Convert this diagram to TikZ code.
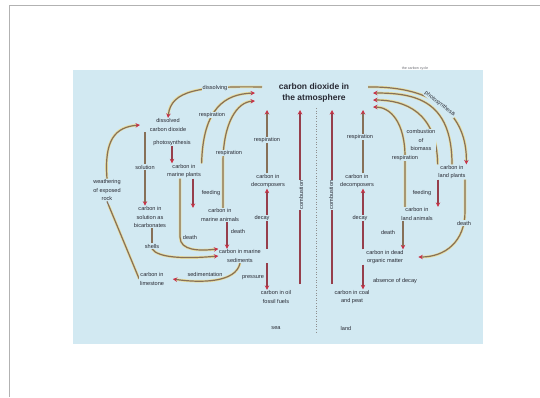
\documentclass[tikz,border=0pt]{standalone}
\usepackage{fontspec}
\setmainfont{Liberation Sans}
\usetikzlibrary{arrows.meta}
\pgfdeclarelayer{bglayer}
\pgfdeclarelayer{lineslayer}
\pgfsetlayers{bglayer,lineslayer,main}
\definecolor{bgc}{RGB}{210,233,242}
\definecolor{linec}{RGB}{135,112,88}
\definecolor{halo}{RGB}{232,222,160}
\definecolor{redc}{RGB}{150,62,75}
\definecolor{tipc}{RGB}{200,50,70}
\definecolor{txtc}{RGB}{40,42,52}
\definecolor{framec}{RGB}{178,178,178}
\begin{document}
\begin{tikzpicture}[x=1pt,y=-1pt,
  lbl/.style={font=\fontsize{5.6}{8.5}\selectfont, text=txtc, align=center, inner sep=0.6pt, fill=bgc},
  flow/.style={draw=linec, line width=1.2pt, preaction={draw=halo, line width=2.6pt, arrows=-, shorten >=4pt}},
  rflow/.style={draw=redc, line width=1.2pt, preaction={draw=halo, line width=2.6pt, arrows=-, shorten >=4pt}},
  redtip/.style={-{Stealth[length=4.5pt,width=4.5pt,color=tipc]}}
]
\useasboundingbox (0,0) rectangle (540,397);
\begin{pgfonlayer}{bglayer}
\fill[bgc] (73,70) rectangle (483,344);
\draw[framec,line width=1pt] (9.5,397) -- (9.5,5.5) -- (540,5.5);
\end{pgfonlayer}

% title and small header
\node[font=\fontsize{8.5}{11}\selectfont\bfseries, text=txtc, align=center, fill=bgc, inner sep=1pt] (title) at (314,93) {carbon dioxide in\\the atmosphere};
\node[font=\fontsize{3.6}{4}\selectfont, text=txtc!70] (cyc) at (415,69) {the carbon cycle};

% sea side
\node[lbl] (dco2) at (168,125) {dissolved\\carbon dioxide};
\node[lbl] (photo) at (172,143) {photosynthesis};
\node[lbl] (soln) at (145,167) {solution};
\node[lbl] (mplant) at (184,171) {carbon in\\marine plants};
\node[lbl] (feedS) at (211,193) {feeding};
\node[lbl] (manim) at (220,215) {carbon in\\marine animals};
\node[lbl] (deathS1) at (190,237) {death};
\node[lbl] (deathS2) at (238,231) {death};
\node[lbl] (bicarb) at (150,217) {carbon in\\solution as\\bicarbonates};
\node[lbl] (shells) at (152,246) {shells};
\node[lbl] (weather) at (107,190) {weathering\\of exposed\\rock};
\node[lbl] (lime) at (152,279) {carbon in\\limestone};
\node[lbl] (sedim) at (205,274) {sedimentation};
\node[lbl] (msed) at (240,256) {carbon in marine\\sediments};
\node[lbl] (pressS) at (253,278) {pressure};
\node[lbl] (oil) at (276,297) {carbon in oil\\fossil fuels};
\node[lbl] (decS) at (268,181) {carbon in\\decomposers};
\node[lbl] (decayS) at (262,218) {decay};
\node[lbl] (respS) at (267,140) {respiration};
\node[lbl] (respA) at (212,115) {respiration};
\node[lbl] (respB) at (229,153) {respiration};
\node[lbl] (dissolv) at (215,88) {dissolving};
\node[lbl, rotate=90] (combS) at (301,195) {combustion};
\node[lbl, rotate=90] (combL) at (331,195) {combustion};
\node[lbl] (sea) at (276,328) {sea};
\node[lbl] (land) at (346,328) {land};

% land side
\node[lbl] (coal) at (352,297) {carbon in coal\\and peat};
\node[lbl] (absdec) at (395,281) {absence of decay};
\node[lbl] (dead) at (385,257) {carbon in dead\\organic matter};
\node[lbl] (decL) at (357,181) {carbon in\\decomposers};
\node[lbl] (decayL) at (360,218) {decay};
\node[lbl] (respL) at (360,137) {respiration};
\node[lbl] (lanim) at (417,214) {carbon in\\land animals};
\node[lbl] (deathL1) at (388,232) {death};
\node[lbl] (lplant) at (452,172) {carbon in\\land plants};
\node[lbl] (feedL) at (422,193) {feeding};
\node[lbl] (deathL2) at (464,223) {death};
\node[lbl] (respR) at (405,158) {respiration};
\node[lbl] (combR) at (421,140) {combustion\\of\\biomass};
\node[lbl, rotate=-38] (photoR) at (440,104) {photosynthesis};

% free ends
\coordinate (tL0) at (262,87);
\coordinate (tL2) at (255,93);
\coordinate (tL3) at (255,101);
\coordinate (tR0) at (368,87);
\coordinate (tR1) at (373,93);
\coordinate (tR2) at (373,100);
\coordinate (tR3) at (373,107);
\coordinate (tbot) at (316,110);
\coordinate (cS0) at (300,284);
\coordinate (cL0) at (332,284);
\coordinate (mid0) at (316,108);
\coordinate (mid1) at (316,332);

\begin{pgfonlayer}{lineslayer}
\draw[framec!80!black, dotted, line width=0.6pt] (mid0) -- (mid1);
% sea
\draw[flow,redtip] (tL0) .. controls (200,86) and (171,90) .. (dco2.north);
\draw[flow,redtip] (weather.north) .. controls (104,140) and (115,127) .. ([xshift=-9pt]dco2.west);
\draw[flow] (lime.west) -- (weather.south);
\draw[rflow,redtip] (photo.south) -- (photo.south |- mplant.north);
\draw[flow] (dco2.south -| soln.north) -- (soln.north);
\draw[flow,redtip] (soln.south) -- (soln.south |- bicarb.north);
\draw[flow] (bicarb.south -| shells) -- (shells.north);
\draw[flow,redtip] (shells.south) .. controls (158,258) and (185,259) .. (msed.west);
\draw[flow,redtip] ([xshift=-4pt]mplant.south) -- ([xshift=-4pt]mplant.south |- deathS1) .. controls ++(0,14) and (200,251) .. (msed.north west);
\draw[rflow,redtip] ([xshift=7pt]manim.south) -- ([xshift=7pt]manim.south |- msed.north);
\draw[rflow,redtip] ([xshift=9pt]mplant.south) -- ([xshift=9pt]mplant.south |- manim.north);
\draw[flow,redtip] (msed.south) .. controls (236,283) and (200,283) .. ([xshift=8pt]lime.east);
\draw[rflow,redtip] ([xshift=27pt]msed.south) -- ([xshift=27pt]msed.south |- oil.north);
\draw[rflow,redtip] ([xshift=27pt]msed.north) -- ([xshift=27pt]msed.north |- decS.south);
\draw[flow,redtip] ([xshift=-1pt]decS.north) -- ([xshift=-1pt]decS.north |- tbot);
\draw[rflow,redtip] (cS0) -- (cS0 |- tbot);
\draw[rflow,redtip] (cL0) -- (cL0 |- tbot);
\draw[flow,redtip] (mplant.north east) .. controls (203,108) and (225,94) .. (tL2);
\draw[flow,redtip] ([xshift=3pt]manim.north) -- ++(0,-45) .. controls ++(0,-40) and (237,102) .. (tL3);
% land
\draw[rflow,redtip] ([xshift=6pt]decL.south |- dead.north) -- ([xshift=6pt]decL.south);
\draw[flow,redtip] ([xshift=6pt]decL.north) -- ([xshift=6pt]decL.north |- tbot);
\draw[rflow,redtip] ([xshift=-22pt]dead.south) -- ([xshift=-22pt]dead.south |- coal.north);
\draw[flow,redtip] ([xshift=-14pt]lanim.south) -- ([xshift=-14pt]lanim.south |- dead.north);
\draw[rflow,redtip] ([xshift=-14pt]lplant.south) -- ([xshift=-14pt]lplant.south |- lanim.north);
\draw[flow,redtip] ([xshift=13pt]lplant.south) -- ++(0,32) .. controls ++(0,30) and (445,257) .. ([xshift=14pt]dead.east);
\draw[flow,redtip] ([xshift=-12pt]lanim.north) -- ++(0,-50) .. controls ++(0,-35) and (390,107) .. (tR3);
\draw[flow,redtip] (lplant.north west) .. controls (437,112) and (405,100) .. (tR2);
\draw[flow,redtip] (lplant.north) .. controls (452,100) and (415,93) .. (tR1);
\draw[flow,redtip] (tR0) .. controls (435,86) and (467,115) .. (lplant.north east);
\end{pgfonlayer}
\end{tikzpicture}
\end{document}
